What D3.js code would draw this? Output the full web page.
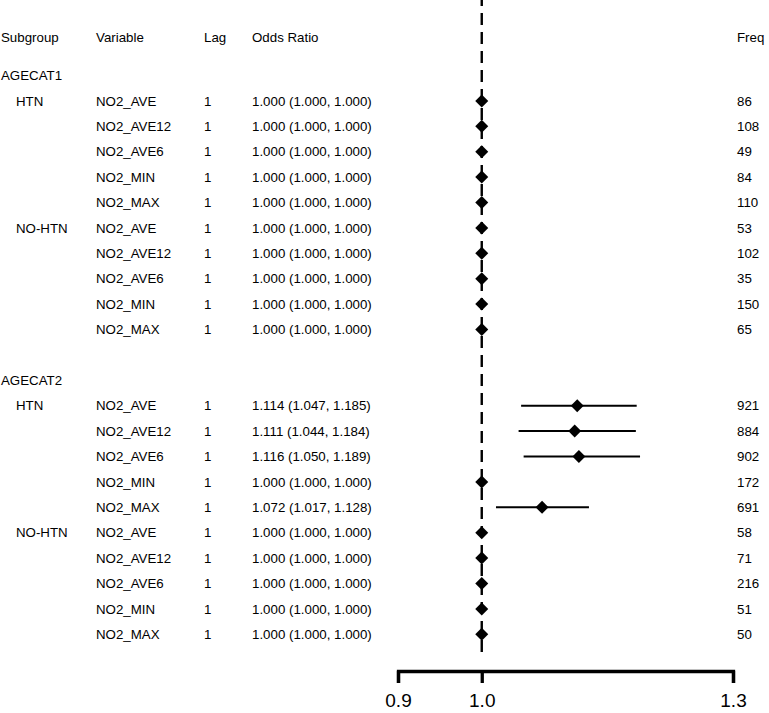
<!DOCTYPE html>
<html>
<head>
<meta charset="utf-8">
<script src="https://cdn.jsdelivr.net/npm/d3@7"></script>
<style>
  body { margin: 0; background: #fff; }
  text { font-family: Arial, "Liberation Sans", sans-serif; fill: #000; }
</style>
</head>
<body>
<script>
var width = 769
var height = 713

// table data
var groups = ['AGECAT1', 'AGECAT2']
var subgroups = ['HTN', 'NO-HTN']
var variables = ['NO2_AVE', 'NO2_AVE12', 'NO2_AVE6', 'NO2_MIN', 'NO2_MAX']
var lag = 1
var estimates = [
  1.000, 1.000, 1.000, 1.000, 1.000, 1.000, 1.000, 1.000, 1.000, 1.000,
  1.114, 1.111, 1.116, 1.000, 1.072, 1.000, 1.000, 1.000, 1.000, 1.000
]
var lower = [
  1.000, 1.000, 1.000, 1.000, 1.000, 1.000, 1.000, 1.000, 1.000, 1.000,
  1.047, 1.044, 1.050, 1.000, 1.017, 1.000, 1.000, 1.000, 1.000, 1.000
]
var upper = [
  1.000, 1.000, 1.000, 1.000, 1.000, 1.000, 1.000, 1.000, 1.000, 1.000,
  1.185, 1.184, 1.189, 1.000, 1.128, 1.000, 1.000, 1.000, 1.000, 1.000
]
var freq = [86, 108, 49, 84, 110, 53, 102, 35, 150, 65,
  921, 884, 902, 172, 691, 58, 71, 216, 51, 50]
var tickValues = [0.9, 1.0, 1.3]
var headers = ['Subgroup', 'Variable', 'Lag', 'Odds Ratio', 'Freq']

var svg = d3.select('body').append('svg')
  .attr('width', width)
  .attr('height', height)

var x = d3.scaleLinear().domain([0.9, 1.3]).range([398, 733])
// row index -> y
var y = d3.scaleLinear().domain([0, 1]).range([75.5, 100.9])

var colX = [1, 96, 204, 252, 737]
var fontSize = '13.3px'

// build rows
var rows = []
var idx = 0
groups.forEach(function (g, gi) {
  var base = gi * 12
  rows.push({ type: 'group', label: g, row: base })
  subgroups.forEach(function (s, si) {
    variables.forEach(function (v, vi) {
      rows.push({
        type: 'data',
        sub: vi === 0 ? s : '',
        variable: v,
        est: estimates[idx],
        lo: lower[idx],
        hi: upper[idx],
        freq: freq[idx],
        row: base + 1 + si * 5 + vi
      })
      idx++
    })
  })
})

function fmt (v) { return d3.format('.3f')(v) }

// headers
svg.selectAll('.header')
  .data(headers)
  .enter().append('text')
  .attr('class', 'header')
  .attr('x', function (d, i) { return colX[i] })
  .attr('y', y(-1.5))
  .attr('dy', '0.35em')
  .style('font-size', fontSize)
  .text(function (d) { return d })

// reference line
svg.append('line')
  .attr('x1', x(1)).attr('x2', x(1))
  .attr('y1', 0).attr('y2', 658)
  .attr('stroke', '#000')
  .attr('stroke-width', 2.4)
  .attr('stroke-dasharray', '12,7')
  .attr('stroke-dashoffset', 6)

svg.selectAll('.group')
  .data(rows.filter(function (d) { return d.type === 'group' }))
  .enter().append('text')
  .attr('class', 'group')
  .attr('x', colX[0])
  .attr('y', function (d) { return y(d.row) })
  .attr('dy', '0.35em')
  .style('font-size', fontSize)
  .text(function (d) { return d.label })

var dataRows = svg.selectAll('.row')
  .data(rows.filter(function (d) { return d.type === 'data' }))
  .enter().append('g')
  .attr('class', 'row')
  .attr('transform', function (d) { return 'translate(0,' + y(d.row) + ')' })

var cells = [
  function (d) { return d.sub },
  function (d) { return d.variable },
  function (d) { return lag },
  function (d) { return fmt(d.est) + ' (' + fmt(d.lo) + ', ' + fmt(d.hi) + ')' },
  function (d) { return d.freq }
]
cells.forEach(function (fn, i) {
  dataRows.append('text')
    .attr('x', i === 0 ? 16 : colX[i])
    .attr('dy', '0.35em')
    .style('font-size', fontSize)
    .text(fn)
})

dataRows.filter(function (d) { return d.hi > d.lo })
  .append('line')
  .attr('x1', function (d) { return x(d.lo) })
  .attr('x2', function (d) { return x(d.hi) })
  .attr('stroke', '#000')
  .attr('stroke-width', 2)

dataRows.append('path')
  .attr('d', d3.symbol(d3.symbolSquare, 84))
  .attr('transform', function (d) { return 'translate(' + x(d.est) + ',0) rotate(45)' })
  .attr('fill', '#000')

// axis
var axis = svg.append('g')
  .attr('transform', 'translate(0,671)')
  .call(d3.axisBottom(x)
    .tickValues(tickValues)
    .tickFormat(d3.format('.1f'))
    .tickSizeOuter(0)
    .tickSize(12)
    .tickPadding(11))

axis.select('.domain').attr('stroke-width', 3.3)
axis.selectAll('.tick line').attr('stroke-width', 3.3)
axis.selectAll('.tick text')
  .style('font-size', '19px')
  .style('font-family', 'Arial, "Liberation Sans", sans-serif')
</script>
</body>
</html>
